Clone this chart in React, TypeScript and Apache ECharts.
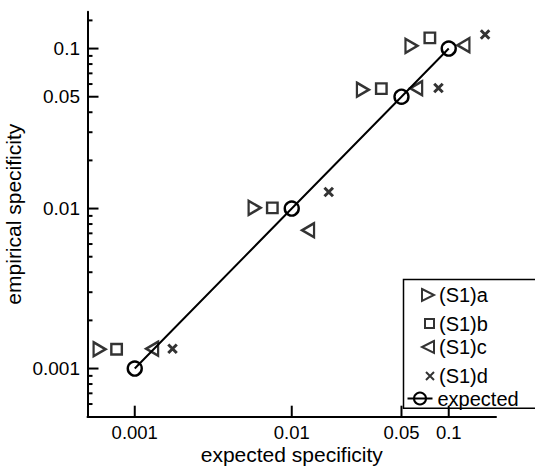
import React, { useEffect, useRef } from "react";
import * as echarts from "echarts";

// ---- data ----
const expectedValues = [0.001, 0.01, 0.05, 0.1];

const s1aX = [0.000597, 0.0058, 0.0284, 0.0579];
const s1aY = [0.00132, 0.0101, 0.0553, 0.104];
const s1bX = [0.000766, 0.00752, 0.0372, 0.0758];
const s1bY = [0.00132, 0.0101, 0.0562, 0.1167];
const s1cX = [0.00129, 0.0127, 0.062, 0.124];
const s1cY = [0.00133, 0.00732, 0.0565, 0.105];
const s1dX = [0.00174, 0.0172, 0.086, 0.1704];
const s1dY = [0.00133, 0.0127, 0.0567, 0.1225];

const seriesNames = ["(S1)a", "(S1)b", "(S1)c", "(S1)d", "expected"];

const xTickValues = [0.001, 0.01, 0.05, 0.1];
const xTickLabels = ["0.001", "0.01", "0.05", "0.1"];
const yTickValues = [0.001, 0.01, 0.05, 0.1];
const yTickLabels = ["0.001", "0.01", "0.05", "0.1"];
const yMinorTicks = [
  0.0006, 0.0007, 0.0008, 0.0009,
  0.002, 0.003, 0.004, 0.005, 0.006, 0.007, 0.008, 0.009,
  0.02, 0.03, 0.04, 0.06, 0.07, 0.08, 0.09, 0.15,
];

const xMin = 0.0005;
const xMax = 0.2;
const yMin = 0.0005;
const yMax = 0.17;

const FONT = '"Liberation Sans", Arial, Helvetica, sans-serif';

const triRight = "path://M0,0L10,5L0,10Z";
const triLeft = "path://M10,0L0,5L10,10Z";
const cross = "path://M0,0L10,10M10,0L0,10";

type Tick = { x: number; y: number; axis: "x" | "y"; major: boolean; label: string };

function buildTicks(): Tick[] {
  const t: Tick[] = [];
  xTickValues.forEach((v, i) => t.push({ x: v, y: yMin, axis: "x", major: true, label: xTickLabels[i] }));
  yTickValues.forEach((v, i) => t.push({ x: xMin, y: v, axis: "y", major: true, label: yTickLabels[i] }));
  yMinorTicks.forEach((v) => t.push({ x: xMin, y: v, axis: "y", major: false, label: "" }));
  return t;
}

function zip(xs: number[], ys: number[]) {
  return xs.map((x, i) => [x, ys[i]]);
}

export default function App() {
  const ref = useRef<HTMLDivElement>(null);

  useEffect(() => {
    if (!ref.current) return;
    const chart = echarts.init(ref.current, undefined, { renderer: "svg" });
    const ticks = buildTicks();

    const markerStyle = {
      color: "rgba(0,0,0,0)",
      borderColor: "#000",
      borderWidth: 2.4,
    };

    const legendTextX = 438;
    const legendRows = [
      { name: seriesNames[0], cy: 292, w: 12, h: 14 },
      { name: seriesNames[1], cy: 318, w: 9, h: 9 },
      { name: seriesNames[2], cy: 344, w: 12, h: 14 },
      { name: seriesNames[3], cy: 370, w: 8, h: 8 },
    ];
    const legends: any[] = legendRows.map((r) => ({
      data: [r.name],
      left: legendTextX - 5 - r.w,
      top: r.cy - r.h / 2,
      itemWidth: r.w,
      itemHeight: r.h,
      padding: 0,
      selectedMode: false,
      textStyle: { fontSize: 20, fontFamily: FONT, color: "#000" },
    }));
    legends.push({
      data: [seriesNames[4]],
      left: 436.5 - 5 - 25,
      top: 396 - 7.5,
      itemWidth: 25,
      itemHeight: 15,
      padding: 0,
      selectedMode: false,
      textStyle: { fontSize: 20, fontFamily: FONT, color: "#000" },
    });

    const option: any = {
      animation: false,
      backgroundColor: "#fff",
      grid: {
        left: 87.5,
        right: 39,
        top: 11.7,
        bottom: 49.3,
        containLabel: false,
        outerBoundsMode: "none",
      },
      xAxis: {
        type: "log",
        logBase: 10,
        min: xMin,
        max: xMax,
        name: "expected specificity",
        nameLocation: "middle",
        nameGap: 27,
        nameTextStyle: { fontSize: 21, fontFamily: FONT, color: "#000" },
        axisLine: { show: true, lineStyle: { color: "#000", width: 2 } },
        axisTick: { show: false },
        axisLabel: { show: false },
        splitLine: { show: false },
        minorTick: { show: false },
      },
      yAxis: {
        type: "log",
        logBase: 10,
        min: yMin,
        max: yMax,
        name: "empirical specificity",
        nameLocation: "middle",
        nameGap: 64,
        nameTextStyle: { fontSize: 21, fontFamily: FONT, color: "#000" },
        axisLine: { show: true, lineStyle: { color: "#000", width: 2 } },
        axisTick: { show: false },
        axisLabel: { show: false },
        splitLine: { show: false },
        minorTick: { show: false },
      },
      legend: legends,
      graphic: [
        {
          type: "rect",
          shape: { x: 403.5, y: 279.5, width: 140, height: 128.8 },
          style: { fill: "none", stroke: "#000", lineWidth: 1.5 },
          z: 1,
        },
      ],
      series: [
        {
          name: seriesNames[0],
          type: "scatter",
          symbol: triRight,
          symbolSize: [12, 14],
          itemStyle: markerStyle,
          data: zip(s1aX, s1aY),
        },
        {
          name: seriesNames[1],
          type: "scatter",
          symbol: "rect",
          symbolSize: 10.5,
          itemStyle: markerStyle,
          data: zip(s1bX, s1bY),
        },
        {
          name: seriesNames[2],
          type: "scatter",
          symbol: triLeft,
          symbolSize: [12, 14],
          itemStyle: markerStyle,
          data: zip(s1cX, s1cY),
        },
        {
          name: seriesNames[3],
          type: "scatter",
          symbol: cross,
          symbolSize: 8.5,
          itemStyle: { ...markerStyle, borderWidth: 3 },
          data: zip(s1dX, s1dY),
        },
        {
          name: seriesNames[4],
          type: "line",
          symbol: "circle",
          symbolSize: 14,
          showAllSymbol: true,
          itemStyle: markerStyle,
          lineStyle: { color: "#000", width: 2 },
          data: zip(expectedValues, expectedValues),
        },
        {
          name: "ticks",
          type: "custom",
          silent: true,
          clip: false,
          z: 5,
          data: ticks.map((t) => [t.x, t.y]),
          renderItem: (params: any, api: any) => {
            const t = ticks[params.dataIndex];
            const p = api.coord([api.value(0), api.value(1)]);
            const len = t.major ? 11 : 5;
            const children: any[] = [];
            if (t.axis === "x") {
              children.push({
                type: "line",
                shape: { x1: p[0], y1: p[1], x2: p[0], y2: p[1] - len },
                style: { stroke: "#000", lineWidth: 2 },
              });
              if (t.label) {
                children.push({
                  type: "text",
                  style: {
                    text: t.label,
                    x: p[0],
                    y: p[1] + 16,
                    align: "center",
                    verticalAlign: "middle",
                    fontSize: 18.5,
                    fontFamily: FONT,
                    fill: "#000",
                  },
                });
              }
            } else {
              children.push({
                type: "line",
                shape: { x1: p[0], y1: p[1], x2: p[0] + len, y2: p[1] },
                style: { stroke: "#000", lineWidth: 2 },
              });
              if (t.label) {
                children.push({
                  type: "text",
                  style: {
                    text: t.label,
                    x: p[0] - 7.5,
                    y: p[1],
                    align: "right",
                    verticalAlign: "middle",
                    fontSize: 19,
                    fontFamily: FONT,
                    fill: "#000",
                  },
                });
              }
            }
            return { type: "group", children };
          },
        },
      ],
    };

    chart.setOption(option);
    return () => chart.dispose();
  }, []);

  return (
    <div
      ref={ref}
      style={{ position: "fixed", left: 0, top: 0, width: 535, height: 466, background: "#fff" }}
    />
  );
}
